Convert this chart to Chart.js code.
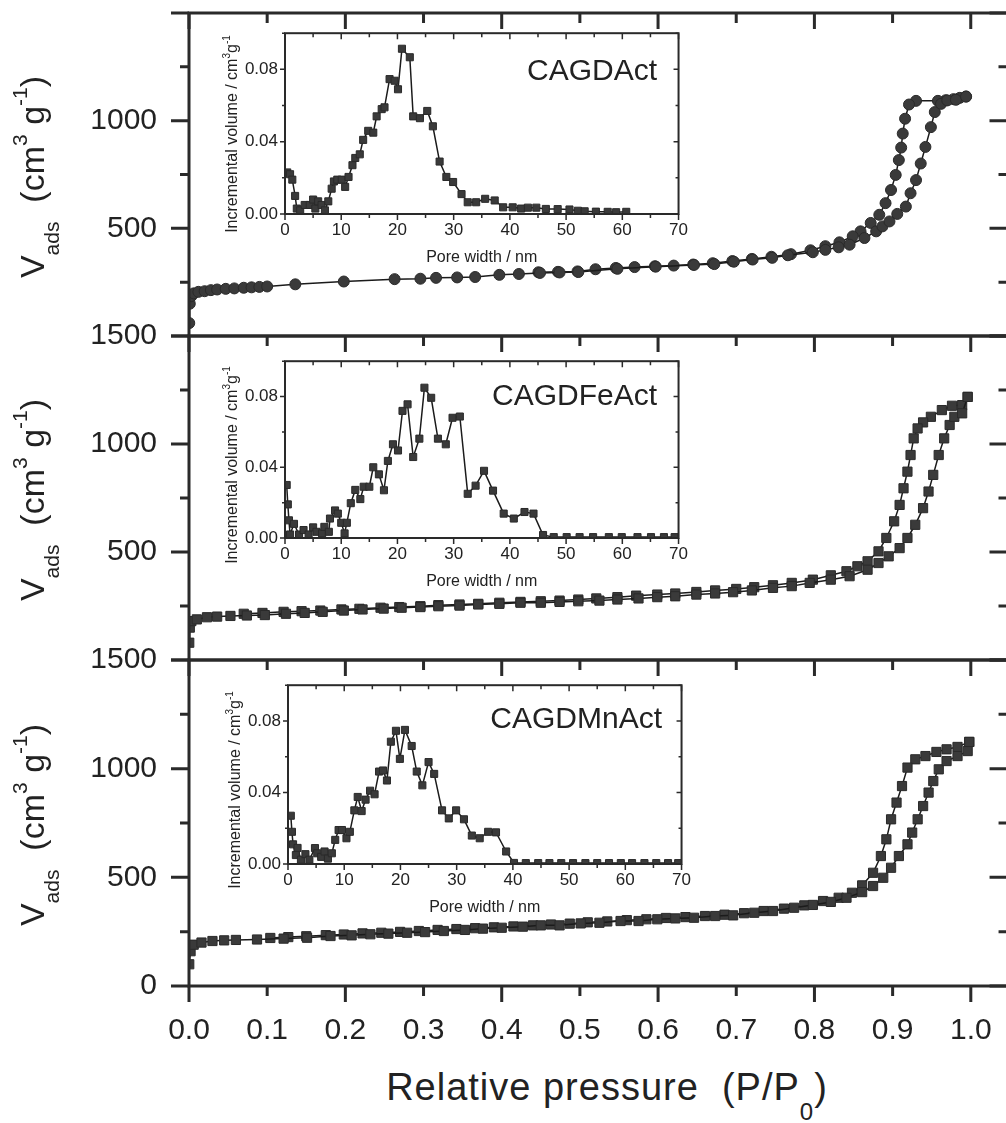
<!DOCTYPE html>
<html lang="en">
<head>
<meta charset="utf-8">
<title>N2 isotherms</title>
<script src="https://cdn.jsdelivr.net/npm/chart.js@4.4.1/dist/chart.umd.min.js"></script>
<style>
    html, body { margin: 0; padding: 0; background: #fff; overflow: hidden; }
    body { position: relative; width: 1006px; height: 1123px; font-family: "Liberation Sans", Arial, sans-serif; color: #222; }
    .box { position: absolute; left: 0; top: 0; }
    .rot { position: absolute; white-space: nowrap; line-height: 1; transform: translate(-50%, -50%) rotate(-90deg); }
    .vt { font-size: 34px; }
    .vt .sb { font-size: 21px; position: relative; top: 15px; }
    .vt .sp { font-size: 21px; position: relative; top: -17px; }
    .it { font-size: 16px; }
    .it .sp { font-size: 10px; position: relative; top: -7px; }
    .xt { position: absolute; white-space: nowrap; line-height: 1; font-size: 38px; letter-spacing: 1px; transform: translateX(-50%); }
    .xt .sb { font-size: 24px; position: relative; top: 20px; }
    .tag { position: absolute; font-size: 30px; line-height: 1; white-space: nowrap; }
</style>
</head>
<body>
<div class="box"><canvas id="panelA" width="1008" height="360"></canvas></div>
<div class="box"><canvas id="panelFe" width="1008" height="360"></canvas></div>
<div class="box"><canvas id="panelMn" width="1008" height="404"></canvas></div>

<div class="box"><canvas id="insetA" width="450" height="250"></canvas></div>
<div class="box"><canvas id="insetFe" width="450" height="250"></canvas></div>
<div class="box"><canvas id="insetMn" width="450" height="250"></canvas></div>

<div class="rot vt" style="left:32px;top:177px">V<span class="sb">ads</span>&nbsp;&nbsp;(cm<span class="sp">3</span> g<span class="sp">-1</span>)</div>
<div class="rot vt" style="left:32px;top:500px">V<span class="sb">ads</span>&nbsp;&nbsp;(cm<span class="sp">3</span> g<span class="sp">-1</span>)</div>
<div class="rot vt" style="left:32px;top:825px">V<span class="sb">ads</span>&nbsp;&nbsp;(cm<span class="sp">3</span> g<span class="sp">-1</span>)</div>
<div class="xt" style="left:607px;top:1068px">Relative pressure&nbsp;&nbsp;(P/P<span class="sb">0</span>)</div>

<div class="rot it" style="left:232px;top:134px">Incremental volume / cm<span class="sp">3</span>g<span class="sp">-1</span></div>
<div class="rot it" style="left:232px;top:465px">Incremental volume / cm<span class="sp">3</span>g<span class="sp">-1</span></div>
<div class="rot it" style="left:235px;top:790px">Incremental volume / cm<span class="sp">3</span>g<span class="sp">-1</span></div>
<div class="tag" style="right:349px;top:55px">CAGDAct</div>
<div class="tag" style="right:349px;top:380px">CAGDFeAct</div>
<div class="tag" style="right:344px;top:703px">CAGDMnAct</div>

<script>
// N2 isotherms, P/P0 vs cm3/g
const presAdsA = [0.0003, 0.001, 0.003, 0.006, 0.012, 0.02, 0.028, 0.036, 0.047, 0.058, 0.07, 0.08, 0.09, 0.1, 0.136, 0.198, 0.263, 0.296, 0.316, 0.343, 0.366, 0.397, 0.422, 0.449, 0.474, 0.498, 0.548, 0.597, 0.646, 0.672, 0.697, 0.721, 0.746, 0.766, 0.798, 0.814, 0.831, 0.845, 0.864, 0.879, 0.887, 0.896, 0.906, 0.917, 0.923, 0.930, 0.936, 0.942, 0.949, 0.954, 0.962, 0.970, 0.981, 0.994];
const volAdsA = [60, 150, 185, 198, 205, 208, 213, 216, 219, 221, 224, 226, 228, 230, 240, 253, 264, 266, 270, 272, 274, 284, 288, 293, 295, 297, 312, 322, 330, 334, 345, 355, 363, 375, 389, 400, 412, 424, 455, 486, 509, 532, 567, 601, 663, 724, 801, 878, 970, 1040, 1078, 1094, 1097, 1112];
const presDesA = [0.994, 0.986, 0.978, 0.968, 0.958, 0.930, 0.921, 0.916, 0.913, 0.911, 0.908, 0.904, 0.898, 0.891, 0.883, 0.872, 0.859, 0.849, 0.832, 0.814, 0.795, 0.770, 0.745, 0.720, 0.695, 0.670, 0.645, 0.620, 0.596, 0.570, 0.546, 0.520, 0.497, 0.472, 0.447];
const volDesA = [1112, 1106, 1100, 1095, 1092, 1092, 1075, 1009, 940, 875, 817, 748, 678, 617, 563, 525, 486, 463, 435, 417, 398, 380, 368, 358, 348, 338, 332, 327, 324, 320, 316, 310, 300, 298, 296];

const presAdsFe = [0.0003, 0.001, 0.003, 0.01, 0.023, 0.036, 0.053, 0.074, 0.097, 0.124, 0.148, 0.171, 0.198, 0.222, 0.249, 0.272, 0.296, 0.319, 0.346, 0.370, 0.397, 0.424, 0.450, 0.474, 0.498, 0.525, 0.548, 0.575, 0.599, 0.622, 0.649, 0.673, 0.696, 0.720, 0.747, 0.771, 0.794, 0.821, 0.845, 0.868, 0.882, 0.895, 0.909, 0.919, 0.929, 0.939, 0.946, 0.952, 0.959, 0.966, 0.973, 0.979, 0.989, 0.996];
const volAdsFe = [80, 150, 180, 188, 198, 201, 204, 206, 208, 214, 218, 223, 229, 234, 238, 242, 245, 249, 252, 257, 260, 265, 265, 269, 272, 275, 280, 285, 291, 295, 303, 308, 314, 322, 334, 342, 357, 372, 388, 418, 449, 480, 518, 565, 626, 703, 780, 857, 949, 1026, 1088, 1126, 1142, 1218];
const presDesFe = [0.996, 0.989, 0.976, 0.963, 0.949, 0.939, 0.932, 0.927, 0.923, 0.919, 0.914, 0.909, 0.902, 0.892, 0.882, 0.868, 0.855, 0.841, 0.821, 0.798, 0.771, 0.747, 0.723, 0.700, 0.673, 0.649, 0.622, 0.599, 0.572, 0.548, 0.521, 0.498, 0.474, 0.450, 0.424, 0.397, 0.370, 0.346, 0.319, 0.296, 0.269, 0.245, 0.218, 0.195, 0.168, 0.144, 0.121, 0.094, 0.070];
const volDesFe = [1218, 1180, 1177, 1157, 1126, 1100, 1072, 1026, 949, 872, 795, 718, 642, 565, 503, 457, 434, 411, 392, 372, 357, 346, 337, 329, 322, 315, 308, 303, 298, 291, 285, 280, 275, 272, 269, 265, 260, 257, 254, 249, 245, 242, 237, 234, 229, 226, 223, 218, 214];

const presAdsMn = [0.0003, 0.002, 0.006, 0.016, 0.03, 0.045, 0.06, 0.087, 0.121, 0.151, 0.181, 0.208, 0.232, 0.255, 0.279, 0.302, 0.326, 0.353, 0.376, 0.40, 0.427, 0.45, 0.474, 0.501, 0.525, 0.552, 0.575, 0.599, 0.622, 0.646, 0.673, 0.696, 0.723, 0.747, 0.774, 0.798, 0.821, 0.841, 0.861, 0.875, 0.888, 0.898, 0.908, 0.919, 0.925, 0.932, 0.939, 0.946, 0.952, 0.959, 0.969, 0.983, 0.996, 0.998];
const volAdsMn = [100, 160, 190, 200, 207, 210, 212, 214, 218, 222, 230, 233, 238, 241, 245, 248, 253, 258, 264, 268, 273, 279, 279, 288, 291, 299, 299, 307, 311, 314, 322, 325, 337, 345, 360, 373, 387, 406, 432, 460, 498, 544, 598, 652, 706, 767, 828, 890, 943, 997, 1035, 1058, 1081, 1123];
const presDesMn = [0.998, 0.983, 0.969, 0.956, 0.942, 0.929, 0.919, 0.912, 0.905, 0.898, 0.892, 0.885, 0.875, 0.861, 0.848, 0.831, 0.811, 0.787, 0.761, 0.735, 0.71, 0.685, 0.66, 0.635, 0.61, 0.585, 0.56, 0.535, 0.51, 0.487, 0.463, 0.44, 0.415, 0.39, 0.366, 0.342, 0.318, 0.294, 0.27, 0.246, 0.222, 0.198, 0.175, 0.15, 0.127, 0.104];
const volDesMn = [1123, 1100, 1089, 1077, 1058, 1043, 1005, 920, 844, 767, 675, 598, 521, 463, 429, 406, 391, 371, 356, 345, 335, 328, 322, 317, 313, 307, 303, 297, 293, 287, 283, 279, 274, 270, 266, 262, 258, 253, 249, 245, 242, 237, 234, 229, 225, 221];

// pore size distributions, nm vs cm3/g
const poreA = [0.4, 0.9, 1.3, 1.8, 2.1, 2.7, 3.5, 4.4, 5.0, 5.4, 5.9, 6.5, 7.1, 7.7, 8.3, 8.7, 9.3, 10.1, 10.7, 11.3, 12.0, 12.5, 13.3, 13.9, 14.8, 15.7, 16.3, 17.2, 17.7, 18.6, 19.5, 20.1, 20.8, 22.2, 22.8, 24.0, 25.3, 26.3, 27.5, 28.7, 29.9, 31.4, 32.5, 34.0, 35.6, 37.3, 38.8, 40.5, 42.0, 43.2, 44.7, 46.4, 48.5, 50.6, 52.1, 53.3, 55.3, 57.4, 58.9, 60.7];
const incA = [0.023, 0.022, 0.019, 0.010, 0.003, 0.002, 0.005, 0.005, 0.008, 0.003, 0.007, 0.005, 0.002, 0.007, 0.014, 0.018, 0.019, 0.019, 0.015, 0.0205, 0.027, 0.031, 0.033, 0.041, 0.046, 0.045, 0.054, 0.058, 0.059, 0.0746, 0.0737, 0.069, 0.0914, 0.0867, 0.054, 0.053, 0.057, 0.0485, 0.029, 0.0205, 0.0177, 0.011, 0.0065, 0.0065, 0.0084, 0.0075, 0.0037, 0.0037, 0.003, 0.0035, 0.0035, 0.0028, 0.0027, 0.0025, 0.0018, 0.0015, 0.0013, 0.0012, 0.001, 0.0012];

const poreFe = [0.3, 0.5, 0.7, 0.9, 1.6, 2.5, 3.3, 4.2, 5.0, 5.6, 6.6, 7.0, 7.8, 8.0, 8.9, 9.4, 10.0, 10.6, 11.0, 11.7, 12.5, 13.4, 14.0, 15.0, 15.7, 16.7, 17.6, 18.3, 19.2, 20.1, 20.9, 21.8, 22.8, 23.9, 24.8, 26.0, 27.2, 28.6, 29.8, 31.1, 32.5, 33.9, 35.4, 37.0, 38.9, 40.7, 42.6, 44.2, 45.9, 47.8, 50.1, 52.4, 54.8, 57.6, 59.9, 62.7, 65.1, 67.4, 69.3];
const incFe = [0.030, 0.019, 0.010, 0.002, 0.008, 0.002, 0.0045, 0.002, 0.006, 0.0035, 0.0026, 0.0063, 0.0035, 0.011, 0.0156, 0.0138, 0.0086, 0.0026, 0.0086, 0.0197, 0.0272, 0.022, 0.029, 0.029, 0.040, 0.036, 0.027, 0.0436, 0.053, 0.0495, 0.0719, 0.0756, 0.0458, 0.0562, 0.085, 0.0793, 0.0562, 0.053, 0.068, 0.0687, 0.025, 0.0296, 0.038, 0.0268, 0.0138, 0.011, 0.0147, 0.0138, 0.0017, 0.0005, 0.0005, 0.0005, 0.0005, 0.0005, 0.0005, 0.0005, 0.0005, 0.0005, 0.0005];

const poreMn = [0.5, 0.7, 0.9, 1.4, 1.7, 2.3, 3.1, 3.8, 4.8, 5.2, 5.9, 6.5, 7.1, 7.8, 8.4, 9.0, 9.6, 10.4, 11.0, 11.8, 12.4, 13.1, 13.8, 14.6, 15.4, 16.2, 16.9, 17.6, 18.3, 19.2, 19.9, 20.8, 22.0, 22.9, 23.9, 25.0, 26.0, 27.4, 28.6, 29.9, 31.3, 32.7, 34.1, 35.6, 37.0, 38.8, 40.2, 42.3, 44.5, 46.5, 48.6, 50.7, 52.9, 55.0, 57.1, 59.2, 61.2, 63.4, 65.5, 67.6, 69.4];
const incMn = [0.027, 0.018, 0.011, 0.005, 0.009, 0.0024, 0.0055, 0.0024, 0.0089, 0.006, 0.004, 0.007, 0.003, 0.006, 0.0135, 0.019, 0.019, 0.0144, 0.018, 0.030, 0.0375, 0.0296, 0.036, 0.041, 0.039, 0.0517, 0.0523, 0.0467, 0.0684, 0.0745, 0.0588, 0.075, 0.066, 0.0517, 0.044, 0.057, 0.0504, 0.030, 0.0255, 0.030, 0.025, 0.0159, 0.0144, 0.018, 0.0177, 0.007, 0.0006, 0.0005, 0.0005, 0.0005, 0.0005, 0.0005, 0.0005, 0.0005, 0.0005, 0.0005, 0.0005, 0.0005, 0.0005, 0.0005, 0.0005];

// labelled ticks on each left axis
const yLabelsA = [500, 1000];
const yLabelsFe = [500, 1000, 1500];
const yLabelsMn = [0, 500, 1000, 1500];

const ink = '#222';
const fam = '"Liberation Sans", Arial, sans-serif';

// box around the plot area plus the tick marks (in on top/right, out on bottom/left)
const framePlugin = {
    id: 'frame',
    afterDatasetsDraw(chart, args, o) {
        const ctx = chart.ctx;
        const a = chart.chartArea;
        const sx = chart.scales.x;
        const sy = chart.scales.y;
        ctx.save();
        ctx.strokeStyle = o.color;
        ctx.lineWidth = o.tickWidth;
        ctx.beginPath();
        let n = Math.round((o.x.to - o.x.from) / o.x.step);
        for (let i = 0; i <= n; i++) {
            let px = sx.getPixelForValue(o.x.from + i * o.x.step);
            let len = i % o.x.every == 0 ? o.x.long : o.x.short;
            ctx.moveTo(px, a.top);
            ctx.lineTo(px, a.top + len);
            if (o.x.bottom) {
                ctx.moveTo(px, a.bottom);
                ctx.lineTo(px, a.bottom + len);
            }
        }
        n = Math.round((o.y.to - o.y.from) / o.y.step);
        for (let i = 0; i <= n; i++) {
            let py = sy.getPixelForValue(o.y.from + i * o.y.step);
            let len = i % o.y.every == 0 ? o.y.long : o.y.short;
            ctx.moveTo(a.left, py);
            ctx.lineTo(a.left - len, py);
            ctx.moveTo(a.right, py);
            ctx.lineTo(a.right - len, py);
        }
        ctx.stroke();
        ctx.lineWidth = o.width;
        ctx.strokeRect(a.left, a.top, a.right - a.left, a.bottom - a.top);
        ctx.restore();
    }
};

const serie = (xs, ys, style, r) => ({
    data: xs.map((x, i) => ({ x: x, y: ys[i] })),
    showLine: true,
    borderColor: '#1b1b1b',
    borderWidth: 1.5,
    pointStyle: style,
    pointRadius: r,
    pointBackgroundColor: '#3a3a3a',
    pointBorderColor: '#2a2a2a',
    pointBorderWidth: 1
});

// builds the chart once to see how much room axes take, then resizes the canvas
// and moves its box so the plot area sits exactly on the given rectangle
const place = (id, makeConfig, area) => {
    const canvas = document.getElementById(id);
    let chart = new Chart(canvas, makeConfig());
    let a = chart.chartArea;
    const padW = chart.width - (a.right - a.left);
    const padH = chart.height - (a.bottom - a.top);
    chart.destroy();
    canvas.width = area.right - area.left + padW;
    canvas.height = area.bottom - area.top + padH;
    chart = new Chart(canvas, makeConfig());
    a = chart.chartArea;
    canvas.parentNode.style.left = (area.left - a.left) + 'px';
    canvas.parentNode.style.top = (area.top - a.top) + 'px';
    return chart;
};

const mainConfig = (sets, yLabels, withX) => () => ({
    type: 'line',
    data: { datasets: sets.map(s => serie(s[0], s[1], s[2], s[3])) },
    options: {
        responsive: false,
        maintainAspectRatio: false,
        animation: false,
        events: [],
        layout: { padding: 0 },
        plugins: {
            legend: { display: false },
            tooltip: { enabled: false },
            frame: {
                color: '#2a2a2a', width: 3, tickWidth: 3,
                x: { from: 0, step: 0.1, to: 1.0, every: 2, long: 16, short: 10, bottom: withX },
                y: { from: 0, step: 250, to: 1500, every: 2, long: 18, short: 9 }
            }
        },
        scales: {
            x: {
                type: 'linear', min: 0, max: 1.047, display: withX,
                grid: { display: false, drawTicks: false },
                border: { display: false },
                ticks: {
                    stepSize: 0.1, includeBounds: false, autoSkip: false, maxRotation: 0,
                    padding: 27, color: ink, font: { family: fam, size: 30 },
                    callback: v => v > 1.0001 ? '' : v.toFixed(1)
                },
                afterFit: s => { if (withX) s.height = 60; }
            },
            y: {
                min: 0, max: 1500,
                grid: { display: false, drawTicks: false },
                border: { display: false },
                ticks: {
                    stepSize: 250, autoSkip: false, padding: 32, color: ink,
                    font: { family: fam, size: 30 },
                    callback: v => yLabels.includes(v) ? String(v) : ''
                },
                afterFit: s => { s.width = 189; }
            }
        }
    },
    plugins: [framePlugin]
});

const insetConfig = (xs, ys) => () => ({
    type: 'line',
    data: { datasets: [serie(xs, ys, 'rect', 5)] },
    options: {
        responsive: false,
        maintainAspectRatio: false,
        animation: false,
        events: [],
        layout: { padding: 0 },
        plugins: {
            legend: { display: false },
            tooltip: { enabled: false },
            frame: {
                color: '#2a2a2a', width: 2, tickWidth: 1.5,
                x: { from: 0, step: 5, to: 70, every: 2, long: 6, short: 4, bottom: true },
                y: { from: 0, step: 0.02, to: 0.1, every: 2, long: 5, short: 3 }
            }
        },
        scales: {
            x: {
                type: 'linear', min: 0, max: 70,
                grid: { display: false, drawTicks: false },
                border: { display: false },
                ticks: { stepSize: 10, autoSkip: false, maxRotation: 0, padding: 6, color: ink, font: { family: fam, size: 17 } },
                title: { display: true, text: 'Pore width / nm', color: ink, font: { family: fam, size: 16 }, padding: { top: 0, bottom: 7 } },
                afterFit: s => { s.height = 60; }
            },
            y: {
                min: 0, max: 0.1,
                grid: { display: false, drawTicks: false },
                border: { display: false },
                ticks: {
                    stepSize: 0.04, includeBounds: false, autoSkip: false, padding: 7, color: ink,
                    font: { family: fam, size: 17 },
                    callback: v => v > 0.09 ? '' : v.toFixed(2)
                },
                afterFit: s => { s.width = 50; }
            }
        }
    },
    plugins: [framePlugin]
});

place('panelA', mainConfig([[presAdsA, volAdsA, 'circle', 5.5], [presDesA, volDesA, 'circle', 5.5]], yLabelsA, false),
    { left: 189, right: 1008, top: 13, bottom: 336 });
place('panelFe', mainConfig([[presAdsFe, volAdsFe, 'rect', 6.5], [presDesFe, volDesFe, 'rect', 6.5]], yLabelsFe, false),
    { left: 189, right: 1008, top: 336, bottom: 660 });
place('panelMn', mainConfig([[presAdsMn, volAdsMn, 'rect', 6.5], [presDesMn, volDesMn, 'rect', 6.5]], yLabelsMn, true),
    { left: 189, right: 1008, top: 660, bottom: 986 });

place('insetA', insetConfig(poreA, incA), { left: 285, right: 679, top: 33, bottom: 214 });
place('insetFe', insetConfig(poreFe, incFe), { left: 285, right: 679, top: 361, bottom: 538 });
place('insetMn', insetConfig(poreMn, incMn), { left: 288, right: 682, top: 685, bottom: 864 });
</script>
</body>
</html>
